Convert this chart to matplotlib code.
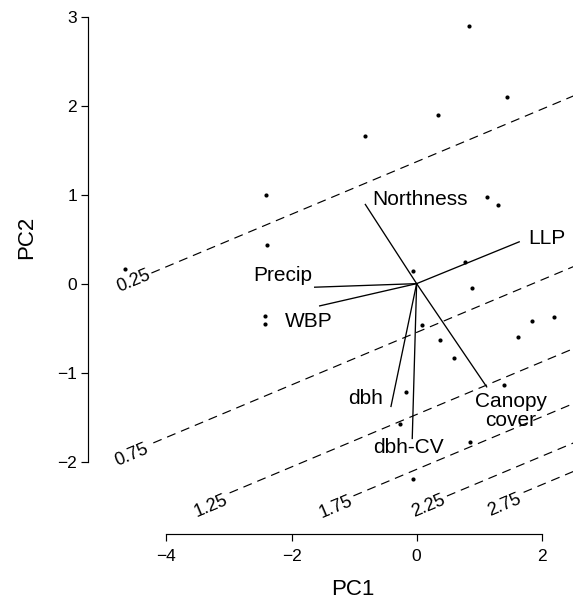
import matplotlib
matplotlib.use("Agg")
import matplotlib.pyplot as plt
import numpy as np

# site scores on the first two principal components
pc1 = [0.83, 1.44, 0.34, -0.83, -2.41, -2.39, -4.66, 1.12, 1.30, 0.77, -0.06, 0.88,
       -2.42, -2.42, 0.09, 0.37, 0.60, 1.85, 2.19, 1.62, 1.40, -0.17, -0.26, 0.86, -0.06]
pc2 = [2.89, 2.10, 1.89, 1.66, 1.00, 0.43, 0.17, 0.97, 0.88, 0.24, 0.14, -0.05,
       -0.36, -0.45, -0.46, -0.63, -0.84, -0.42, -0.38, -0.60, -1.14, -1.22, -1.58, -1.78, -2.20]

# variable loadings (line ends) and where their names sit
var_names = ['Northness', 'LLP', 'Precip', 'WBP', 'dbh', 'dbh-CV', 'Canopy\ncover']
load_x = [-0.82, 1.64, -1.63, -1.55, -0.41, -0.07, 1.12]
load_y = [0.89, 0.47, -0.04, -0.25, -1.38, -1.74, -1.16]
name_x = [0.05, 2.09, -2.14, -1.72, -0.81, -0.13, 1.51]
name_y = [0.95, 0.51, 0.09, -0.42, -1.29, -1.84, -1.43]

# fitted contour lines (all parallel)
levels = ['0.25', '0.75', '1.25', '1.75', '2.25', '2.75']
slope = 0.295
intercepts = [1.37, -0.548, -1.47, -2.087, -2.53, -2.85]
line_start = [-4.24, -4.21, -2.99, -1.01, 0.485, 1.71]
level_x = [-4.53, -4.55, -3.29, -1.29, 0.19, 1.41]
level_y = [0.03, -1.93, -2.50, -2.51, -2.50, -2.49]

plt.rcParams['font.family'] = ['Liberation Sans', 'DejaVu Sans']
plt.rcParams['lines.scale_dashes'] = False

fig = plt.figure(figsize=(5.73, 5.99), dpi=100)
ax = fig.add_axes([107 / 573, 84 / 599, 466 / 573, 507.2 / 599])
ax.set_xlim(-4.95, 2.5)
ax.set_ylim(-2.6, 3.1)

xmax = 2.6
for c, x0 in zip(intercepts, line_start):
    xs = np.array([x0, xmax])
    ax.plot(xs, c + slope * xs, color='black', lw=0.85, dashes=(6.5, 4.3))

ang = np.degrees(np.arctan(slope))
for lab, x, y in zip(levels, level_x, level_y):
    ax.text(x, y, lab, fontsize=13, ha='center', va='center', rotation=ang,
            rotation_mode='anchor', transform_rotates_text=True)

for lx, ly in zip(load_x, load_y):
    ax.plot([0, lx], [0, ly], color='black', lw=0.95)

for nm, x, y in zip(var_names, name_x, name_y):
    ax.text(x, y, nm, fontsize=15, ha='center', va='center', linespacing=1.05)

ax.scatter(pc1, pc2, s=9, color='black', linewidths=0, zorder=3)

for side in ['top', 'right']:
    ax.spines[side].set_visible(False)
ax.spines['left'].set_position(('outward', 13.5))
ax.spines['bottom'].set_position(('outward', 13.7))
ax.spines['left'].set_bounds(-2, 3)
ax.spines['bottom'].set_bounds(-4, 2)
for side in ['left', 'bottom']:
    ax.spines[side].set_linewidth(0.85)
ax.set_xticks([-4, -2, 0, 2])
ax.set_yticks([-2, -1, 0, 1, 2, 3])
ax.tick_params(axis='both', direction='out', length=5, width=0.85, labelsize=12.5)
ax.tick_params(axis='x', pad=6)
ax.tick_params(axis='y', pad=3)

fig.text(353 / 573, 1 - 595 / 599, 'PC1', fontsize=16, ha='center', va='baseline')
fig.text(32 / 573, 1 - 237.5 / 599, 'PC2', fontsize=16, ha='center', va='baseline',
         rotation=90, rotation_mode='anchor')

plt.savefig('out.png', dpi=100)
